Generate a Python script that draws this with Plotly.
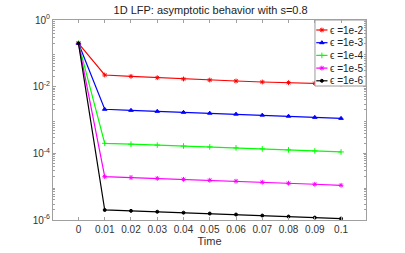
import plotly.graph_objects as go

time = [0, 0.01, 0.02, 0.03, 0.04, 0.05, 0.06, 0.07, 0.08, 0.09, 0.1]
eps_labels = ["ϵ =1e-2", "ϵ =1e-3", "ϵ =1e-4", "ϵ =1e-5", "ϵ =1e-6"]
red = [0.2, 0.0224, 0.0204, 0.0186, 0.0170, 0.0158, 0.0148, 0.0138, 0.0132, 0.0126, 0.0120]
blue = [0.2, 0.00210, 0.00195, 0.00182, 0.00170, 0.00160, 0.00150, 0.00140, 0.00130, 0.00120, 0.00112]
green = [0.2, 0.000200, 0.000188, 0.000177, 0.000166, 0.000156, 0.000146, 0.000136, 0.000127, 0.000118, 0.000110]
magenta = [0.2, 0.0000200, 0.0000188, 0.0000177, 0.0000166, 0.0000156, 0.0000146, 0.0000136, 0.0000127, 0.0000118, 0.0000110]
black = [0.2, 0.00000200, 0.00000188, 0.00000177, 0.00000166, 0.00000156, 0.00000146, 0.00000136, 0.00000127, 0.00000118, 0.00000110]
xtick_vals = [0, 0.01, 0.02, 0.03, 0.04, 0.05, 0.06, 0.07, 0.08, 0.09, 0.1]
xtick_text = ["0", "0.01", "0.02", "0.03", "0.04", "0.05", "0.06", "0.07", "0.08", "0.09", "0.1"]
ytick_vals = [1e-6, 1e-4, 1e-2, 1]
ytick_text = ["10<sup>-6</sup>", "10<sup>-4</sup>", "10<sup>-2</sup>", "10<sup>0</sup>"]

series = [red, blue, green, magenta, black]
colors = ["#ff0000", "#0000ff", "#00ff00", "#ff00ff", "#000000"]
symbols = ["asterisk-open", "triangle-up", "cross-thin-open", "asterisk-open", "circle"]
sizes = [4, 4, 4, 4, 3]

fig = go.Figure()
for ys, lab, c, s, sz in zip(series, eps_labels, colors, symbols, sizes):
    fig.add_trace(go.Scatter(
        x=time, y=ys, name=lab, mode="lines+markers", showlegend=False,
        line=dict(color=c, width=1.2),
        marker=dict(symbol=s, size=sz, color=c, line=dict(color=c, width=1)),
    ))

# Compact MATLAB-like legend drawn on an overlay axis in [0,1] units
lg_x0, lg_x1, lg_y0, lg_y1 = 0.837, 1.0, 0.67, 1.0
fig.add_trace(go.Scatter(
    x=[lg_x0, lg_x1, lg_x1, lg_x0, lg_x0], y=[lg_y0, lg_y0, lg_y1, lg_y1, lg_y0],
    xaxis="x2", yaxis="y2", mode="lines", fill="toself", fillcolor="white",
    line=dict(color="#9a9a9a", width=1), showlegend=False, hoverinfo="skip"))
first_y, step = 0.95, 0.0635
for i, (lab, c, s, sz) in enumerate(zip(eps_labels, colors, symbols, sizes)):
    yy = first_y - i * step
    fig.add_trace(go.Scatter(
        x=[lg_x0 + 0.004, lg_x0 + 0.040], y=[yy, yy], xaxis="x2", yaxis="y2",
        mode="lines", line=dict(color=c, width=1.2), showlegend=False, hoverinfo="skip"))
    fig.add_trace(go.Scatter(
        x=[lg_x0 + 0.022], y=[yy], xaxis="x2", yaxis="y2", mode="markers",
        marker=dict(symbol=s, size=sz, color=c, line=dict(color=c, width=1)),
        showlegend=False, hoverinfo="skip"))
    fig.add_annotation(x=lg_x0 + 0.043, y=yy, xref="x2", yref="y2", text=lab,
                       showarrow=False, xanchor="left", yanchor="middle",
                       font=dict(size=10, color="#222222"))

minor_vals = []
for e in range(-6, 0):
    for m in range(2, 10):
        minor_vals.append(m * 10 ** e)

axis_col = "#a0a0a0"
fig.update_layout(
    width=405, height=253,
    margin=dict(l=53, r=39, t=20, b=33),
    paper_bgcolor="white", plot_bgcolor="white",
    font=dict(family="Liberation Sans, Arial, sans-serif", size=10, color="#333333"),
    title=dict(text="1D LFP: asymptotic behavior with s=0.8", x=0.52, xanchor="center",
               y=0.96, yanchor="middle", font=dict(size=11, color="#222222")),
    showlegend=False,
    xaxis=dict(range=[-0.0097, 0.1095], tickvals=xtick_vals, ticktext=xtick_text,
               showgrid=False, zeroline=False, showline=True, linecolor=axis_col,
               linewidth=1, mirror="ticks", ticks="inside", ticklen=3, tickcolor=axis_col,
               automargin=False,
               title=dict(text="Time", standoff=2, font=dict(size=11))),
    yaxis=dict(type="log", range=[-6, 0], tickvals=ytick_vals, ticktext=ytick_text,
               showgrid=False, zeroline=False, showline=True, linecolor=axis_col,
               linewidth=1, mirror="ticks", ticks="inside", ticklen=3, tickcolor=axis_col,
               automargin=False,
               minor=dict(tickvals=minor_vals, ticks="inside", ticklen=2, tickcolor=axis_col,
                          showgrid=False)),
    xaxis2=dict(overlaying="x", range=[0, 1], visible=False, fixedrange=True),
    yaxis2=dict(overlaying="y", range=[0, 1], visible=False, fixedrange=True),
)

fig.write_html("out.html", config={"displayModeBar": False},
               post_script="document.body.style.margin='0';")
